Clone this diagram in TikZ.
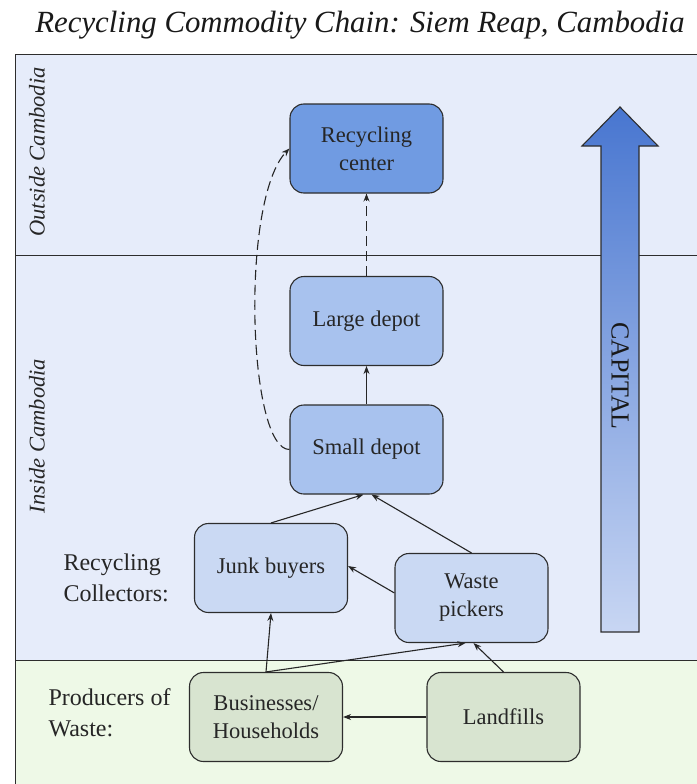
\documentclass[tikz,border=0pt]{standalone}
\usepackage{fontspec}
\setmainfont{Liberation Serif}
\usetikzlibrary{arrows.meta}
\definecolor{bandblue}{RGB}{230,236,250}
\definecolor{bandgreen}{RGB}{238,249,231}
\definecolor{centerfill}{RGB}{112,155,226}
\definecolor{depotfill}{RGB}{168,194,238}
\definecolor{collectfill}{RGB}{202,217,243}
\definecolor{producefill}{RGB}{216,228,208}
\definecolor{capitaltop}{RGB}{72,118,208}
\definecolor{capitalbottom}{RGB}{200,214,243}
\definecolor{edge}{RGB}{45,45,45}
\begin{document}
\begin{tikzpicture}[x=1pt, y=-1pt,
  box/.style={draw=edge, line width=1.1pt, rounded corners=14pt, minimum width=153pt, minimum height=89pt, align=center, text=black!85, font=\fontsize{22.5}{28}\selectfont},
  side/.style={align=left, anchor=west, text=black!85, font=\fontsize{24}{31}\selectfont},
  band/.style={rotate=90, text=black!85, font=\fontsize{22.5}{27}\selectfont\itshape},
  flow/.style={-{Stealth[length=8pt, width=6pt]}, line width=1.1pt, draw=black!85},
  ghost/.style={flow, dash pattern=on 10pt off 5pt}]
\useasboundingbox (0,0) rectangle (696,784);

% bands
\fill[white] (0,0) rectangle (696,784);
\draw[edge, line width=1pt, fill=bandblue] (15,55) rectangle (710,255);
\draw[edge, line width=1pt, fill=bandblue] (15,255) rectangle (710,660);
\draw[edge, line width=1pt, fill=bandgreen] (15,660) rectangle (710,800);

\node[font=\fontsize{30.8}{36}\selectfont\itshape, text=black!90] (title) at (360,25) {Recycling Commodity Chain: Siem Reap, Cambodia};
\node[band] (outside) at (37,152) {Outside Cambodia};
\node[band] (inside) at (37,436) {Inside Cambodia};

% capital arrow
\shade[top color=capitaltop, bottom color=capitalbottom, draw=edge, line width=1.1pt]
  (601,632) -- (601,146) -- (582,146) -- (620,107) -- (658,146) -- (639,146) -- (639,632) -- cycle;
\node[rotate=-90, text=black!90, font=\fontsize{26}{30}\selectfont] (capital) at (620,376) {CAPITAL};

% chain
\node[box, fill=centerfill] (center) at (366.5,148.5) {Recycling\\center};
\node[box, fill=depotfill] (large) at (366.5,321) {Large depot};
\node[box, fill=depotfill] (small) at (366.5,449.5) {Small depot};
\node[box, fill=collectfill] (junk) at (271,568) {Junk buyers};
\node[box, fill=collectfill] (pickers) at (471.5,598) {Waste\\pickers};
\node[box, fill=producefill] (business) at (266,717) {Businesses/\\Households};
\node[box, fill=producefill] (landfill) at (503.5,717) {Landfills};

\node[side] (collectors) at (60,578) {Recycling\\Collectors:};
\node[side] (producers) at (45,713) {Producers of\\Waste:};

\draw[flow] (business.north) -- (junk.south);
\draw[flow] (business.north) -- ([xshift=-6pt]pickers.south);
\draw[flow] (landfill.north) -- ([xshift=2pt]pickers.south);
\draw[flow] (landfill.west) -- (business.east);
\draw[flow] ([yshift=5pt]pickers.west) -- ([yshift=2pt]junk.east);
\draw[flow] (junk.north) -- ([xshift=-3pt]small.south);
\draw[flow] (pickers.north) -- ([xshift=5pt]small.south);
\draw[flow] (small.north) -- (large.south);
\draw[ghost] (large.north) -- (center.south);
\draw[ghost] (small.west) .. controls (248,450) and (240,200) .. (center.west);
\end{tikzpicture}
\end{document}
